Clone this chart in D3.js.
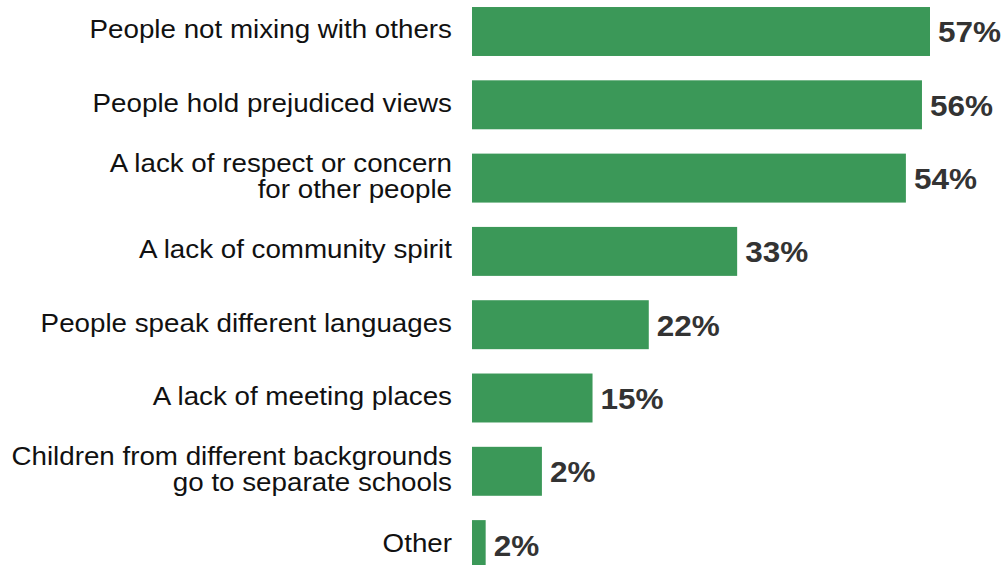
<!DOCTYPE html>
<html><head><meta charset="utf-8">
<script src="https://cdn.jsdelivr.net/npm/d3@7"></script>
<style>body{margin:0;background:#fff}svg{display:block}</style>
</head><body>
<svg id="c" width="1005" height="565"></svg>
<script>
const categories = [
  ["People not mixing with others"],
  ["People hold prejudiced views"],
  ["A lack of respect or concern", "for other people"],
  ["A lack of community spirit"],
  ["People speak different languages"],
  ["A lack of meeting places"],
  ["Children from different backgrounds", "go to separate schools"],
  ["Other"]
];
const values = [57, 56, 54, 33, 22, 15, 8.7, 1.7];
const valueLabels = ["57%", "56%", "54%", "33%", "22%", "15%", "2%", "2%"];

const svg = d3.select("#c");
const x0 = 472;
const x = d3.scaleLinear().domain([0, 57]).range([x0, 930]);
const y = d3.scaleBand().domain(d3.range(categories.length)).range([7 - 12.15, 7 + 8 * 73.3 - 12.15]).paddingInner(0.332).paddingOuter(0.166);

const g = svg.append("g");
g.selectAll("rect").data(values).join("rect")
  .attr("x", x(0)).attr("y", (d, i) => y(i))
  .attr("width", d => x(d) - x(0)).attr("height", y.bandwidth())
  .attr("fill", "#3b9858");

g.selectAll("text.val").data(values).join("text").attr("class", "val")
  .attr("transform", d => `translate(${x(d) + 8},0) scale(1.05,1) translate(${-(x(d) + 8)},0)`)
  .attr("x", d => x(d) + 8).attr("y", (d, i) => y(i) + y.bandwidth() / 2 + 11)
  .attr("font-family", "Liberation Sans, Arial, sans-serif").attr("font-weight", "bold")
  .attr("font-size", 30).attr("fill", "#333")
  .text((d, i) => valueLabels[i]);

categories.forEach((lines, i) => {
  const cy = y(i) + y.bandwidth() / 2;
  const lh = 26;
  const t = g.append("text").attr("text-anchor", "end")
    .attr("transform", "translate(452,0) scale(1.11,1) translate(-452,0)")
    .attr("font-family", "Liberation Sans, Arial, sans-serif").attr("font-size", 25).attr("fill", "#111");
  lines.forEach((l, k) => {
    t.append("tspan").attr("x", 452)
      .attr("y", cy + 7 + (k - (lines.length - 1) / 2) * lh).text(l);
  });
});
</script>
</body></html>
